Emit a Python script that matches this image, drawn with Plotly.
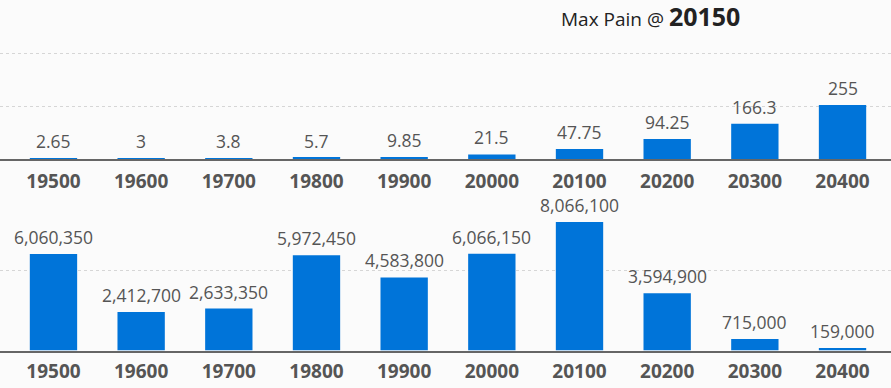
import plotly.graph_objects as go

strikes = ["19500", "19600", "19700", "19800", "19900", "20000", "20100", "20200", "20300", "20400"]
premium = [2.65, 3, 3.8, 5.7, 9.85, 21.5, 47.75, 94.25, 166.3, 255]
premium_labels = ["2.65", "3", "3.8", "5.7", "9.85", "21.5", "47.75", "94.25", "166.3", "255"]
pain = [6060350, 2412700, 2633350, 5972450, 4583800, 6066150, 8066100, 3594900, 715000, 159000]
max_pain_strike = "20150"

W, H = 891, 388
BAR = "#0074d9"
LBL = "#555555"
FONT = "Open Sans"

def frac(px):
    return (H - px) / H

fig = go.Figure()
fig.add_trace(go.Bar(x=strikes, y=premium, marker_color=BAR, marker_line_width=0,
                     width=0.54, xaxis="x", yaxis="y", hoverinfo="skip"))
fig.add_trace(go.Bar(x=strikes, y=pain, marker_color=BAR, marker_line_width=0,
                     width=0.54, xaxis="x2", yaxis="y2", hoverinfo="skip"))

annotations = []
for i, (v, t) in enumerate(zip(premium, premium_labels)):
    annotations.append(dict(x=i, y=v, xref="x", yref="y", text=t, showarrow=False,
                            yanchor="bottom", yshift=3,
                            font=dict(family=FONT, size=17.5, color=LBL)))
for i, v in enumerate(pain):
    annotations.append(dict(x=i, y=v, xref="x2", yref="y2", text=f"{v:,}", showarrow=False,
                            yanchor="bottom", yshift=3,
                            font=dict(family=FONT, size=17.5, color=LBL)))
annotations.append(dict(x=650.5 / W, y=frac(16), xref="paper", yref="paper", showarrow=False,
                        xanchor="center", yanchor="middle",
                        text=f"Max Pain @ <b><span style='font-size:25px'>{max_pain_strike}</span></b>",
                        font=dict(family=FONT, size=19, color="#222222")))

xr = [-0.61, 9.553]
xcommon = dict(type="category", range=xr, showline=True, linecolor="#666666", linewidth=2,
               showgrid=False, zeroline=False, ticks="",
               tickfont=dict(family=FONT, size=19, color=LBL, weight="bold"),
               fixedrange=True)
ycommon = dict(showticklabels=False, showgrid=True, gridcolor="#d6d6d6", griddash="dot",
               gridwidth=1, zeroline=False, showline=False, ticks="", fixedrange=True)

fig.update_layout(
    width=W, height=H,
    margin=dict(l=0, r=0, t=0, b=0),
    paper_bgcolor="#fbfbfb", plot_bgcolor="#fbfbfb",
    showlegend=False, bargap=0.46,
    annotations=annotations,
    xaxis=dict(**xcommon, domain=[0, 1], anchor="y", ticklabelstandoff=4),
    yaxis=dict(**ycommon, domain=[frac(159), frac(35)], range=[0, (159 - 35) * 250 / 53],
               dtick=250, anchor="x"),
    xaxis2=dict(**xcommon, domain=[0, 1], anchor="y2", ticklabelstandoff=3),
    yaxis2=dict(**ycommon, domain=[frac(350.5), frac(200)],
                range=[0, (350.5 - 200) * 5e6 / 79.7], dtick=5e6, anchor="x2"),
)

fig.write_html("out.html", config={"displayModeBar": False},
               post_script="document.body.style.margin='0';document.body.style.background='#fbfbfb';")
